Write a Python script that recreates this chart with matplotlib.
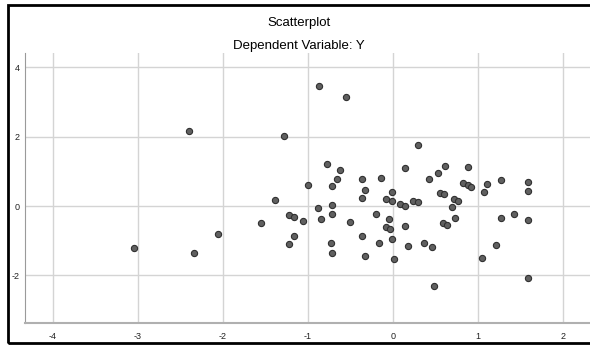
import matplotlib as mpl
mpl.use("Agg")
import matplotlib.pyplot as plt
from matplotlib.patches import Rectangle

# standardized predicted value (x) vs standardized residual (y)
x_vals = [-3.04, -2.40, -2.34, -2.06, -1.55, -1.38, -1.28, -1.22, -1.16, -1.16,
          -1.22, -1.06, -1.00, -0.875, -0.87, -0.84, -0.77, -0.73, -0.71, -0.71,
          -0.71, -0.71, -0.66, -0.62, -0.55, -0.50, -0.36, -0.33, -0.36, -0.36,
          -0.33, -0.20, -0.16, -0.14, -0.08, -0.08, -0.05, -0.03, -0.01, -0.01,
          -0.01, 0.02, 0.08, 0.14, 0.14, 0.14, 0.18, 0.24, 0.30, 0.30,
          0.37, 0.43, 0.46, 0.48, 0.53, 0.56, 0.60, 0.59, 0.62, 0.64,
          0.70, 0.72, 0.73, 0.77, 0.83, 0.89, 0.89, 0.92, 1.05, 1.07,
          1.11, 1.21, 1.27, 1.27, 1.43, 1.59, 1.59, 1.59, 1.59]
y_vals = [-1.21, 2.16, -1.35, -0.80, -0.48, 0.17, 2.01, -0.26, -0.32, -0.87,
          -1.09, -0.42, 0.61, -0.07, 3.47, -0.37, 1.20, -1.08, 0.04, -0.24,
          -1.34, 0.59, 0.79, 1.05, 3.14, -0.46, 0.77, 0.46, 0.22, -0.86,
          -1.44, -0.22, -1.06, 0.82, 0.21, -0.61, -0.37, -0.66, 0.41, 0.14,
          -0.95, -1.53, 0.06, -0.01, 1.10, -0.57, -1.14, 0.15, 0.11, 1.76,
          -1.07, 0.78, -1.17, -2.30, 0.94, 0.37, 0.35, -0.48, 1.14, -0.54,
          -0.03, 0.20, -0.34, 0.14, 0.66, 1.13, 0.60, 0.56, -1.50, 0.39,
          0.64, -1.11, 0.75, -0.35, -0.24, 0.70, 0.42, -0.41, -2.07]

x_ticks = [-4, -3, -2, -1, 0, 1, 2]
y_ticks = [-2, 0, 2, 4]

title_main = "Scatterplot"
title_sub = "Dependent Variable: Y"


def main():
    plt.rcParams['font.family'] = ['Liberation Sans', 'DejaVu Sans']

    fig = plt.figure(figsize=(5.9, 3.45), dpi=100)
    ax = fig.add_axes([25/590, 1 - 323.3/345, 1 - 25/590, (323.3 - 53)/345])

    # outer frame of the chart window (right side is cut off in the reference)
    fig.patches.append(Rectangle((8/590, 2/345), 1.2, 1 - 7/345,
                                 transform=fig.transFigure, fill=False,
                                 edgecolor='black', linewidth=2))

    ax.scatter(x_vals, y_vals, s=20, facecolor='#606060', edgecolor='#303030',
               linewidths=0.8, zorder=3)

    ax.set_xlim(-4.326, 2.32)
    ax.set_ylim(-3.38, 4.41)
    ax.set_xticks(x_ticks)
    ax.set_yticks(y_ticks)
    ax.set_xticklabels([str(t) for t in x_ticks])
    ax.set_yticklabels([str(t) for t in y_ticks])
    ax.tick_params(axis='x', length=0, labelsize=6.5, colors='#222222', pad=6)
    ax.tick_params(axis='y', length=0, labelsize=6.5, colors='#222222', pad=4)
    ax.grid(True, color='#d4d4d4', linewidth=1.0, zorder=0)
    ax.set_axisbelow(True)

    for s in ['top', 'right']:
        ax.spines[s].set_visible(False)
    ax.spines['left'].set_color('#9a9a9a')
    ax.spines['bottom'].set_color('#b0b0b0')
    ax.spines['bottom'].set_linewidth(1.5)

    fig.text(0.5 + 8/590/2, 1 - 23/345, title_main, ha='center', va='center',
             fontsize=9.5, color='black')
    fig.text(0.5 + 8/590/2, 1 - 46/345, title_sub, ha='center', va='center',
             fontsize=9.5, color='black')

    fig.savefig("out.png", dpi=100)
    plt.close(fig)


if __name__ == "__main__":
    main()
